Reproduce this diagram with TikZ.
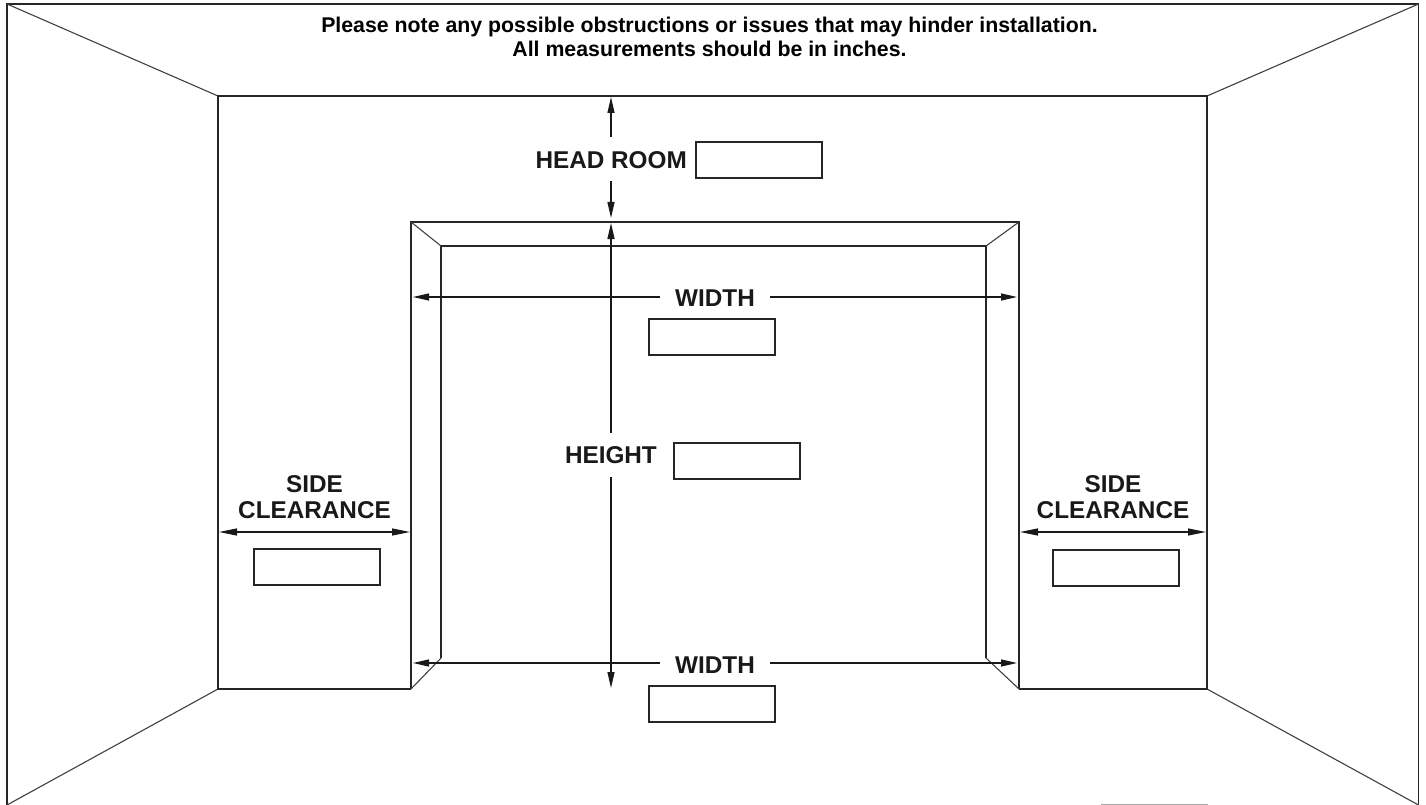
\documentclass[tikz,border=0pt]{standalone}
\usepackage{fontspec}
\setmainfont{Liberation Sans}
\usetikzlibrary{arrows.meta}
\tikzset{
  x=1pt,y=-1pt,
  wall/.style={draw=black!85,line width=1.4pt},
  thin wall/.style={draw=black!75,line width=1.1pt},
  dim/.style={draw=black!90,line width=1.2pt,{Triangle[length=18pt,width=7pt]}-{Triangle[length=18pt,width=7pt]}},
  dimend/.style={draw=black!90,line width=1.2pt,-{Triangle[length=16pt,width=7pt]}},
  entry/.style={draw=black!85,line width=1.8pt,minimum width=126pt,minimum height=36pt,inner sep=0pt,anchor=north west},
  lab/.style={font=\bfseries\fontsize{24.3}{26}\selectfont,inner sep=0pt,align=center,text=black!90},
  note/.style={font=\bfseries\fontsize{21.3}{24.5}\selectfont,inner sep=0pt,align=center}
}
\begin{document}
\begin{tikzpicture}
\useasboundingbox (0,0) rectangle (1426,805);
% outer frame
\coordinate (ftl) at (7,4);
\coordinate (ftr) at (1418.5,4);
\coordinate (fbl) at (7,805);
\coordinate (fbr) at (1418.5,805);
\coordinate (wtl) at (218,96);
\coordinate (wtr) at (1207,96);
\coordinate (wbl) at (218,689);
\coordinate (wbr) at (1207,689);
\coordinate (otl) at (411,222);
\coordinate (otr) at (1019,222);
\coordinate (obl) at (411,689);
\coordinate (obr) at (1019,689);
\coordinate (itl) at (441,246);
\coordinate (itr) at (986,246);
\coordinate (ibl) at (441,658);
\coordinate (ibr) at (986,658);
\draw[wall] (fbl) -- (ftl) -- (ftr) -- (fbr);
\draw[thin wall] (ftl) -- (wtl);
\draw[thin wall] (ftr) -- (wtr);
\draw[thin wall] (fbl) -- (wbl);
\draw[thin wall] (fbr) -- (wbr);
% back wall and door
\draw[wall] (obl) -- (wbl) -- (wtl) -- (wtr) -- (wbr) -- (obr);
\draw[wall] (obl) -- (otl) -- (otr) -- (obr);
\draw[wall] (ibl) -- (itl) -- (itr) -- (ibr);
\draw[thin wall] (otl) -- (itl);
\draw[thin wall] (otr) -- (itr);
\draw[thin wall] (obl) -- (ibl);
\draw[thin wall] (obr) -- (ibr);
% note
\node[note] (n) at (709.5,37) {Please note any possible obstructions or issues that may hinder installation.\\All measurements should be in inches.};
% labels
\node[lab,anchor=east] (hr) at (687,160) {HEAD ROOM};
\node[lab] (w1) at (715,298) {WIDTH};
\node[lab] (w2) at (715,665) {WIDTH};
\node[lab,anchor=east] (ht) at (657,455) {HEIGHT};
\node[lab] (s1) at (314.5,497) {SIDE\\CLEARANCE};
\node[lab] (s2) at (1113,497) {SIDE\\CLEARANCE};
% entry boxes
\node[entry] (b1) at (695,141) {};
\node[entry] (b2) at (648,318) {};
\node[entry] (b3) at (673,442) {};
\node[entry] (b4) at (253,548) {};
\node[entry] (b5) at (1052,549) {};
\node[entry] (b6) at (648,685) {};
% dimension lines
\coordinate (a1) at (611,97);  \coordinate (a2) at (611,137);
\coordinate (a3) at (611,181); \coordinate (a4) at (611,218);
\coordinate (a5) at (611,223); \coordinate (a6) at (611,433);
\coordinate (a7) at (611,477); \coordinate (a8) at (611,688);
\draw[dimend] (a2) -- (a1);
\draw[dimend] (a3) -- (a4);
\draw[dimend] (a6) -- (a5);
\draw[dimend] (a7) -- (a8);
\coordinate (w1a) at (413,297); \coordinate (w1b) at (660,297);
\coordinate (w1c) at (770,297); \coordinate (w1d) at (1017,297);
\draw[dimend] (w1b) -- (w1a);
\draw[dimend] (w1c) -- (w1d);
\coordinate (w2a) at (413,663); \coordinate (w2b) at (660,663);
\coordinate (w2c) at (770,663); \coordinate (w2d) at (1017,663);
\draw[dimend] (w2b) -- (w2a);
\draw[dimend] (w2c) -- (w2d);
\coordinate (s1a) at (219,532); \coordinate (s1b) at (410,532);
\coordinate (s2a) at (1020,532); \coordinate (s2b) at (1206,532);
\draw[dim] (s1a) -- (s1b);
\draw[dim] (s2a) -- (s2b);
% faint stub at the bottom edge
\coordinate (g1) at (1101,804.5); \coordinate (g2) at (1208,804.5);
\draw[draw=black!35,line width=1pt] (g1) -- (g2);
\end{tikzpicture}
\end{document}
